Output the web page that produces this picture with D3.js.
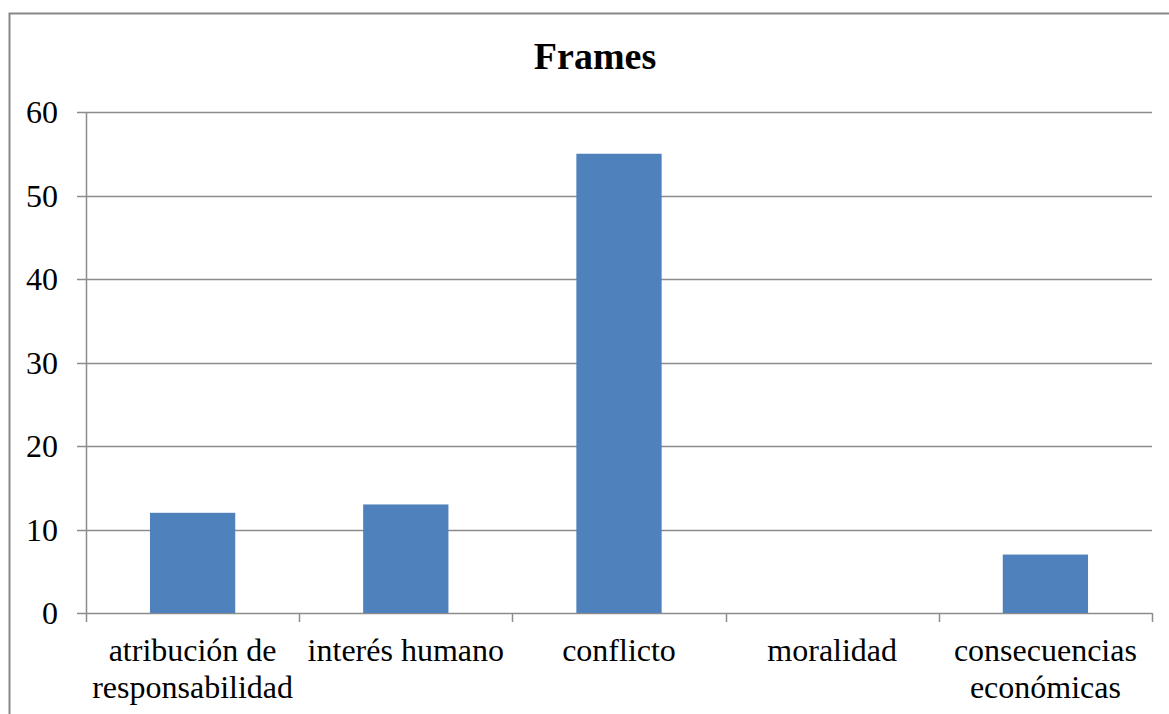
<!DOCTYPE html>
<html>
<head>
<meta charset="utf-8">
<script src="https://cdn.jsdelivr.net/npm/d3@7"></script>
<style>
  body { margin: 0; background: #fff; }
  text { font-family: "Liberation Serif", "Times New Roman", serif; fill: #000; }
</style>
</head>
<body>
<div id="chart"></div>
<script>
// chart data
var categories = [["atribución de", "responsabilidad"], ["interés humano"], ["conflicto"], ["moralidad"], ["consecuencias", "económicas"]];
var values = [12, 13, 55, 0, 7];
var yTicks = [0, 10, 20, 30, 40, 50, 60];

var width = 1169, height = 714;
var margin = {left: 86, right: 17, top: 112, bottom: 101};

var svg = d3.select('#chart').append('svg')
  .attr('width', width).attr('height', height);

// outer frame (runs off the picture on the right and bottom)
svg.append('rect')
  .attr('x', 9.5).attr('y', 13.5)
  .attr('width', 1200).attr('height', 800)
  .attr('fill', 'none').attr('stroke', '#888').attr('stroke-width', 2);

svg.append('text')
  .attr('x', 595).attr('y', 69)
  .attr('text-anchor', 'middle')
  .style('font-size', '38px').style('font-weight', 'bold')
  .text('Frames');

var x = d3.scaleBand()
  .domain(d3.range(categories.length))
  .range([margin.left, width - margin.right])
  .paddingInner(0.6).paddingOuter(0.3);

var y = d3.scaleLinear().domain([0, 60]).range([height - margin.bottom, margin.top]);

// gridlines
svg.append('g').selectAll('line').data(yTicks).enter().append('line')
  .attr('x1', margin.left - 9).attr('x2', width - margin.right)
  .attr('y1', function(d) { return Math.round(y(d)) + 0.5; })
  .attr('y2', function(d) { return Math.round(y(d)) + 0.5; })
  .attr('stroke', '#8c8c8c').attr('stroke-width', 1.5);

// y axis line
svg.append('line')
  .attr('x1', margin.left + 0.5).attr('x2', margin.left + 0.5)
  .attr('y1', margin.top).attr('y2', height - margin.bottom)
  .attr('stroke', '#8c8c8c').attr('stroke-width', 1.5);

// x category ticks
var step = (width - margin.right - margin.left) / categories.length;
svg.append('g').selectAll('line').data(d3.range(categories.length + 1)).enter().append('line')
  .attr('x1', function(i) { return Math.round(margin.left + i * step) + 0.5; })
  .attr('x2', function(i) { return Math.round(margin.left + i * step) + 0.5; })
  .attr('y1', height - margin.bottom).attr('y2', height - margin.bottom + 9)
  .attr('stroke', '#8c8c8c').attr('stroke-width', 1.5);

// bars
svg.append('g').selectAll('rect').data(values).enter().append('rect')
  .attr('x', function(d, i) { return x(i); })
  .attr('width', x.bandwidth())
  .attr('y', function(d) { return y(d); })
  .attr('height', function(d) { return y(0) - y(d); })
  .attr('fill', '#4f81bd');

// y labels
svg.append('g').selectAll('text').data(yTicks).enter().append('text')
  .attr('x', 58).attr('y', function(d) { return y(d); })
  .attr('dy', '0.35em').attr('text-anchor', 'end')
  .style('font-size', '32px')
  .text(function(d) { return d; });

// x labels
var lbl = svg.append('g').selectAll('text').data(categories).enter().append('text')
  .attr('text-anchor', 'middle')
  .style('font-size', '32px');
lbl.selectAll('tspan').data(function(d, i) { return d.map(function(t) { return {t: t, i: i}; }); })
  .enter().append('tspan')
  .attr('x', function(d) { return x(d.i) + x.bandwidth() / 2; })
  .attr('y', function(d, j) { return 661 + j * 37; })
  .text(function(d) { return d.t; });
</script>
</body>
</html>
